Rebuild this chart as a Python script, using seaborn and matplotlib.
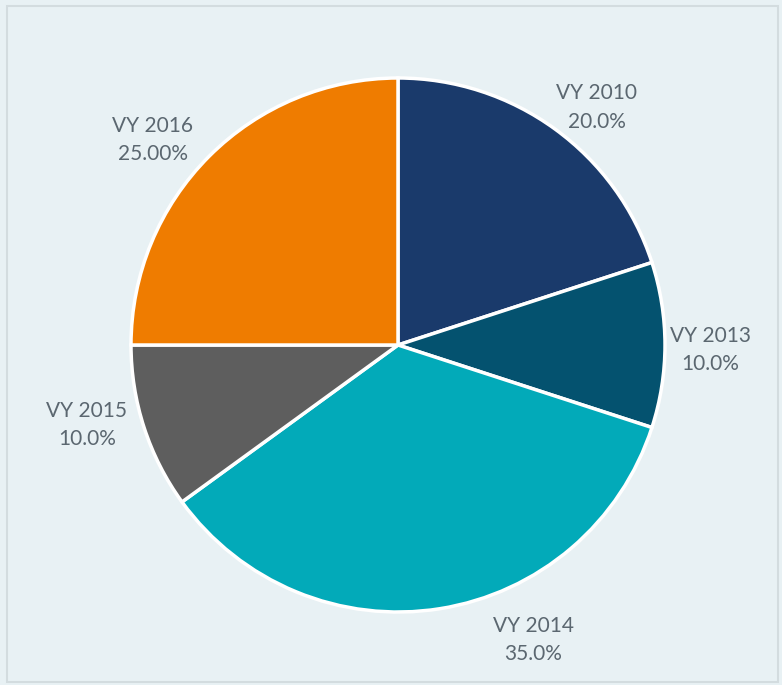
import matplotlib
matplotlib.use("Agg")
import matplotlib.pyplot as plt
import seaborn as sns
from matplotlib.patches import Rectangle

categories = ["VY 2010", "VY 2013", "VY 2014", "VY 2015", "VY 2016"]
values = [20.0, 10.0, 35.0, 10.0, 25.0]
pct_labels = ["20.0%", "10.0%", "35.0%", "10.0%", "25.00%"]
colors = ["#1a3a6b", "#04526f", "#02aab9", "#5e5e5e", "#ef7c00"]
label_pos = [(0.745, 0.891), (1.169, -0.019), (0.506, -1.105), (-1.165, -0.30), (-0.918, 0.768)]

sns.set_theme(style="white")
plt.rcParams["font.family"] = ["Lato", "DejaVu Sans"]
palette = sns.color_palette(colors)

W, H = 782, 685
fig = plt.figure(figsize=(W / 100, H / 100), dpi=100)
bg = "#e8f1f4"
fig.patch.set_facecolor(bg)
fig.patches.append(Rectangle((7 / W, 3 / H), (W - 11) / W, (H - 9) / H, transform=fig.transFigure,
                             fill=False, edgecolor="#d3dcdf", linewidth=1.5))

r = 267
cx, cy = 398, H - 345
k = 1.25
ax = fig.add_axes([(cx - r * k) / W, (cy - r * k) / H, 2 * r * k / W, 2 * r * k / H])
ax.set_facecolor("none")
ax.pie(values, colors=palette, startangle=90, counterclock=False,
       wedgeprops=dict(edgecolor="white", linewidth=2.5), radius=1.0)
ax.set_xlim(-k, k)
ax.set_ylim(-k, k)
ax.set_aspect("equal")
ax.axis("off")

for cat, pct, (x, y) in zip(categories, pct_labels, label_pos):
    ax.text(x, y, f"{cat}\n{pct}", ha="center", va="center", fontsize=15,
            color="#5b6770", linespacing=1.55)

fig.savefig("out.png", dpi=100, facecolor=bg)
